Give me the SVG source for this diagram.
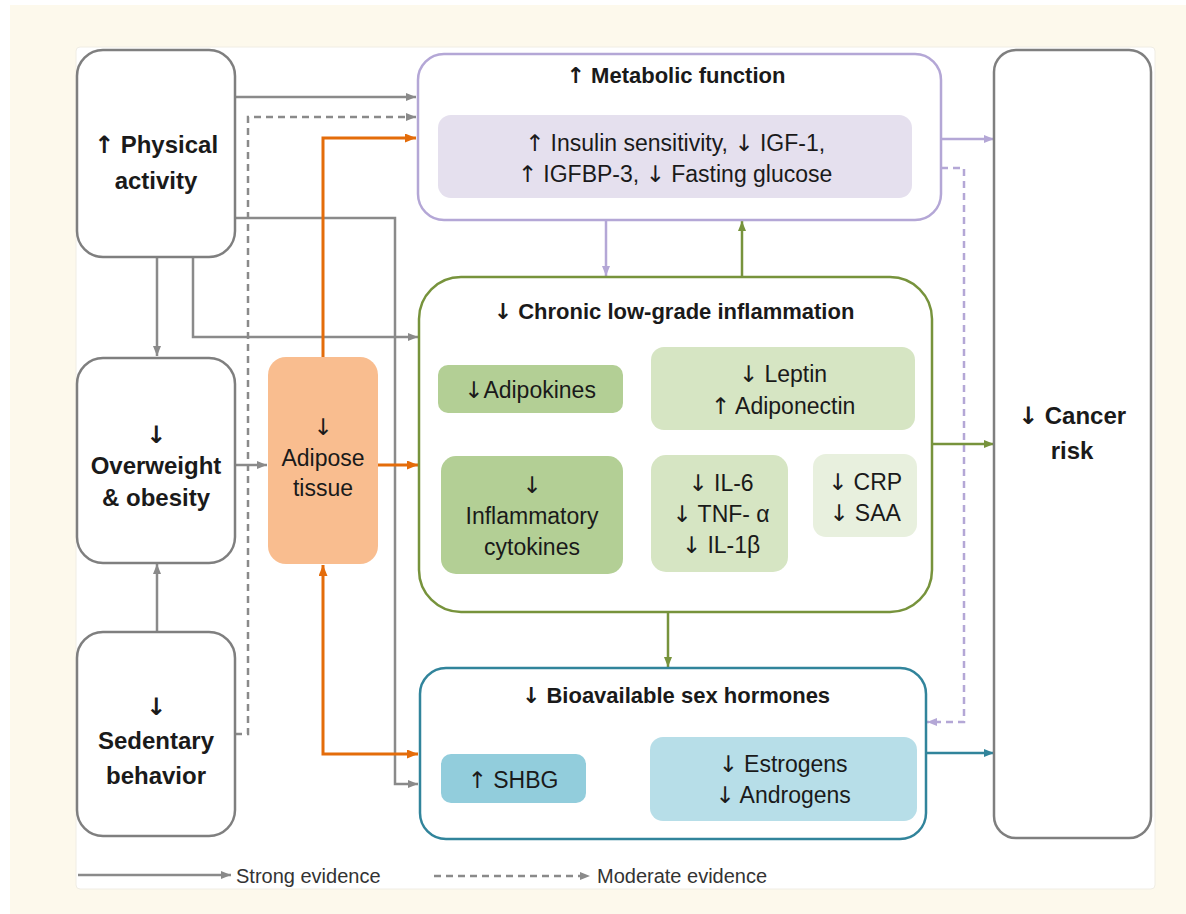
<svg xmlns="http://www.w3.org/2000/svg" width="1186" height="914" viewBox="0 0 1186 914">
<style>
  text { font-family: "Liberation Sans", Arial, sans-serif; fill: #1a1a1a; text-anchor: middle; }
  .ar { font-family: "DejaVu Sans", sans-serif; fill: #1a1a1a; }
  .big { font-size: 24px; font-weight: bold; }
  .title { font-size: 22px; font-weight: bold; }
  .reg { font-size: 23px; }
  .leg { font-size: 20px; text-anchor: start; fill: #333; }
  .gray { fill: #ffffff; stroke: #7f7f7f; stroke-width: 2.5; }
  .c { fill: none; stroke-width: 2.5; }
  .cg { stroke: #8a8a8a; }
  .co { stroke: #e46c0a; stroke-width: 3; }
  .cl { stroke: #b4a7d6; }
  .cgr { stroke: #77933c; }
  .ct { stroke: #31849b; }
  .dash { stroke-dasharray: 7 5; }
</style>
<defs>
  <marker id="ag" markerUnits="userSpaceOnUse" markerWidth="10" markerHeight="8" refX="10" refY="4" orient="auto"><path d="M0,0 L10,4 L0,8 z" fill="#8a8a8a"/></marker>
  <marker id="ao" markerUnits="userSpaceOnUse" markerWidth="11" markerHeight="9" refX="11" refY="4.5" orient="auto-start-reverse"><path d="M0,0 L11,4.5 L0,9 z" fill="#e46c0a"/></marker>
  <marker id="al" markerUnits="userSpaceOnUse" markerWidth="10" markerHeight="8" refX="10" refY="4" orient="auto"><path d="M0,0 L10,4 L0,8 z" fill="#b4a7d6"/></marker>
  <marker id="agr" markerUnits="userSpaceOnUse" markerWidth="10" markerHeight="8" refX="10" refY="4" orient="auto"><path d="M0,0 L10,4 L0,8 z" fill="#77933c"/></marker>
  <marker id="at" markerUnits="userSpaceOnUse" markerWidth="10" markerHeight="8" refX="10" refY="4" orient="auto"><path d="M0,0 L10,4 L0,8 z" fill="#31849b"/></marker>
</defs>

<rect x="0" y="0" width="1186" height="914" fill="#ffffff"/>
<rect x="10" y="5" width="1176" height="909" fill="#fdf9ec"/>
<rect x="76" y="47" width="1079" height="842" rx="4" fill="#ffffff" stroke="#f0ede4" stroke-width="1"/>

<g id="connectors">
  <path class="c cg" d="M235,97 H416" marker-end="url(#ag)"/>
  <path class="c cg dash" d="M235,734 H248 V117 H416" marker-end="url(#ag)"/>
  <path class="c cg" d="M235,218 H395 V784 H418" marker-end="url(#ag)"/>
  <path class="c cg" d="M157,257 V356" marker-end="url(#ag)"/>
  <path class="c cg" d="M193,257 V337 H418" marker-end="url(#ag)"/>
  <path class="c cg" d="M235,465 H267" marker-end="url(#ag)"/>
  <path class="c cg" d="M157,632 V564" marker-end="url(#ag)"/>
  <path class="c co" d="M323,357 V138 H416" marker-end="url(#ao)"/>
  <path class="c co" d="M378,465 H418" marker-end="url(#ao)"/>
  <path class="c co" d="M323,565 V754 H418" marker-start="url(#ao)" marker-end="url(#ao)"/>
  <path class="c cl" d="M606,220 V276" marker-end="url(#al)"/>
  <path class="c cgr" d="M742,277 V221" marker-end="url(#agr)"/>
  <path class="c cl" d="M941,139 H994" marker-end="url(#al)"/>
  <path class="c cl dash" d="M941,168 H964 V722 H927" marker-end="url(#al)"/>
  <path class="c cgr" d="M932,444 H994" marker-end="url(#agr)"/>
  <path class="c cgr" d="M668,612 V667" marker-end="url(#agr)"/>
  <path class="c ct" d="M926,753 H994" marker-end="url(#at)"/>
  <path class="c cgr" stroke-width="2" d="M623,392 H650" marker-end="url(#agr)"/>
  <path class="c cgr" stroke-width="2" d="M623,515 H650" marker-end="url(#agr)"/>
  <path class="c cgr" stroke-width="2" d="M789,485 H812" marker-end="url(#agr)"/>
  <path class="c ct" stroke-width="2" d="M586,779 H649" marker-end="url(#at)"/>
</g>

<g id="physical-activity">
  <rect class="gray" x="77" y="50" width="158" height="207" rx="26"/>
  <text class="big" x="156" y="153"><tspan class="ar">↑</tspan> Physical</text>
  <text class="big" x="156" y="189">activity</text>
</g>

<g id="overweight">
  <rect class="gray" x="77" y="358" width="158" height="205" rx="26"/>
  <text class="big ar" x="156" y="443">↓</text>
  <text class="big" x="156" y="474">Overweight</text>
  <text class="big" x="156" y="506">&amp; obesity</text>
</g>

<g id="sedentary">
  <rect class="gray" x="77" y="632" width="158" height="204" rx="26"/>
  <text class="big ar" x="156" y="715">↓</text>
  <text class="big" x="156" y="749">Sedentary</text>
  <text class="big" x="156" y="784">behavior</text>
</g>

<g id="adipose">
  <rect x="268" y="357" width="110" height="207" rx="18" fill="#f9bd8f"/>
  <text class="reg ar" x="323" y="435">↓</text>
  <text class="reg" x="323" y="466">Adipose</text>
  <text class="reg" x="323" y="496">tissue</text>
</g>

<g id="metabolic">
  <rect x="418" y="54" width="523" height="166" rx="26" fill="#ffffff" stroke="#b4a7d6" stroke-width="2.5"/>
  <text class="title" x="676" y="83"><tspan class="ar">↑</tspan> Metabolic function</text>
  <rect x="438" y="115" width="474" height="83" rx="13" fill="#e5e0ee"/>
  <text class="reg" x="675" y="151"><tspan class="ar">↑</tspan> Insulin sensitivity, <tspan class="ar">↓</tspan> IGF-1,</text>
  <text class="reg" x="675" y="182"><tspan class="ar">↑</tspan> IGFBP-3, <tspan class="ar">↓</tspan> Fasting glucose</text>
</g>

<g id="inflammation">
  <rect x="419" y="277" width="513" height="335" rx="42" fill="#ffffff" stroke="#77933c" stroke-width="2.5"/>
  <text class="title" x="674" y="319"><tspan class="ar">↓</tspan> Chronic low-grade inflammation</text>
  <g id="adipokines">
    <rect x="438" y="365" width="185" height="48" rx="10" fill="#b3cf95"/>
    <text class="reg" x="530" y="398"><tspan class="ar">↓</tspan>Adipokines</text>
  </g>
  <g id="leptin">
    <rect x="651" y="347" width="264" height="83" rx="13" fill="#d6e5c3"/>
    <text class="reg" x="783" y="382"><tspan class="ar">↓</tspan> Leptin</text>
    <text class="reg" x="783" y="414"><tspan class="ar">↑</tspan> Adiponectin</text>
  </g>
  <g id="cytokines">
    <rect x="441" y="456" width="182" height="118" rx="15" fill="#b3cf95"/>
    <text class="reg ar" x="532" y="493">↓</text>
    <text class="reg" x="532" y="524">Inflammatory</text>
    <text class="reg" x="532" y="555">cytokines</text>
  </g>
  <g id="interleukins">
    <rect x="651" y="455" width="137" height="117" rx="15" fill="#d6e5c3"/>
    <text class="reg" x="721" y="491"><tspan class="ar">↓</tspan> IL-6</text>
    <text class="reg" x="721" y="522"><tspan class="ar">↓</tspan> TNF- α</text>
    <text class="reg" x="721" y="553"><tspan class="ar">↓</tspan> IL-1β</text>
  </g>
  <g id="crp">
    <rect x="813" y="454" width="104" height="83" rx="13" fill="#e8f0de"/>
    <text class="reg" x="865" y="490"><tspan class="ar">↓</tspan> CRP</text>
    <text class="reg" x="865" y="521"><tspan class="ar">↓</tspan> SAA</text>
  </g>
</g>

<g id="sex-hormones">
  <rect x="420" y="668" width="506" height="171" rx="26" fill="#ffffff" stroke="#31849b" stroke-width="2.5"/>
  <text class="title" x="676" y="703"><tspan class="ar">↓</tspan> Bioavailable sex hormones</text>
  <g id="shbg">
    <rect x="441" y="754" width="145" height="49" rx="10" fill="#92cddc"/>
    <text class="reg" x="513" y="788"><tspan class="ar">↑</tspan> SHBG</text>
  </g>
  <g id="estrogens">
    <rect x="650" y="737" width="267" height="84" rx="13" fill="#b7dee8"/>
    <text class="reg" x="783" y="772"><tspan class="ar">↓</tspan> Estrogens</text>
    <text class="reg" x="783" y="803"><tspan class="ar">↓</tspan> Androgens</text>
  </g>
</g>

<g id="cancer-risk">
  <rect class="gray" x="994" y="50" width="157" height="788" rx="22"/>
  <text class="big" x="1072" y="424"><tspan class="ar">↓</tspan> Cancer</text>
  <text class="big" x="1072" y="459">risk</text>
</g>

<g id="legend">
  <path class="c cg" stroke-width="2" d="M78,875 H231" marker-end="url(#ag)"/>
  <text class="leg" x="236" y="883">Strong evidence</text>
  <path class="c cg dash" stroke-width="2" d="M434,876 H590" marker-end="url(#ag)"/>
  <text class="leg" x="597" y="883">Moderate evidence</text>
</g>
</svg>
